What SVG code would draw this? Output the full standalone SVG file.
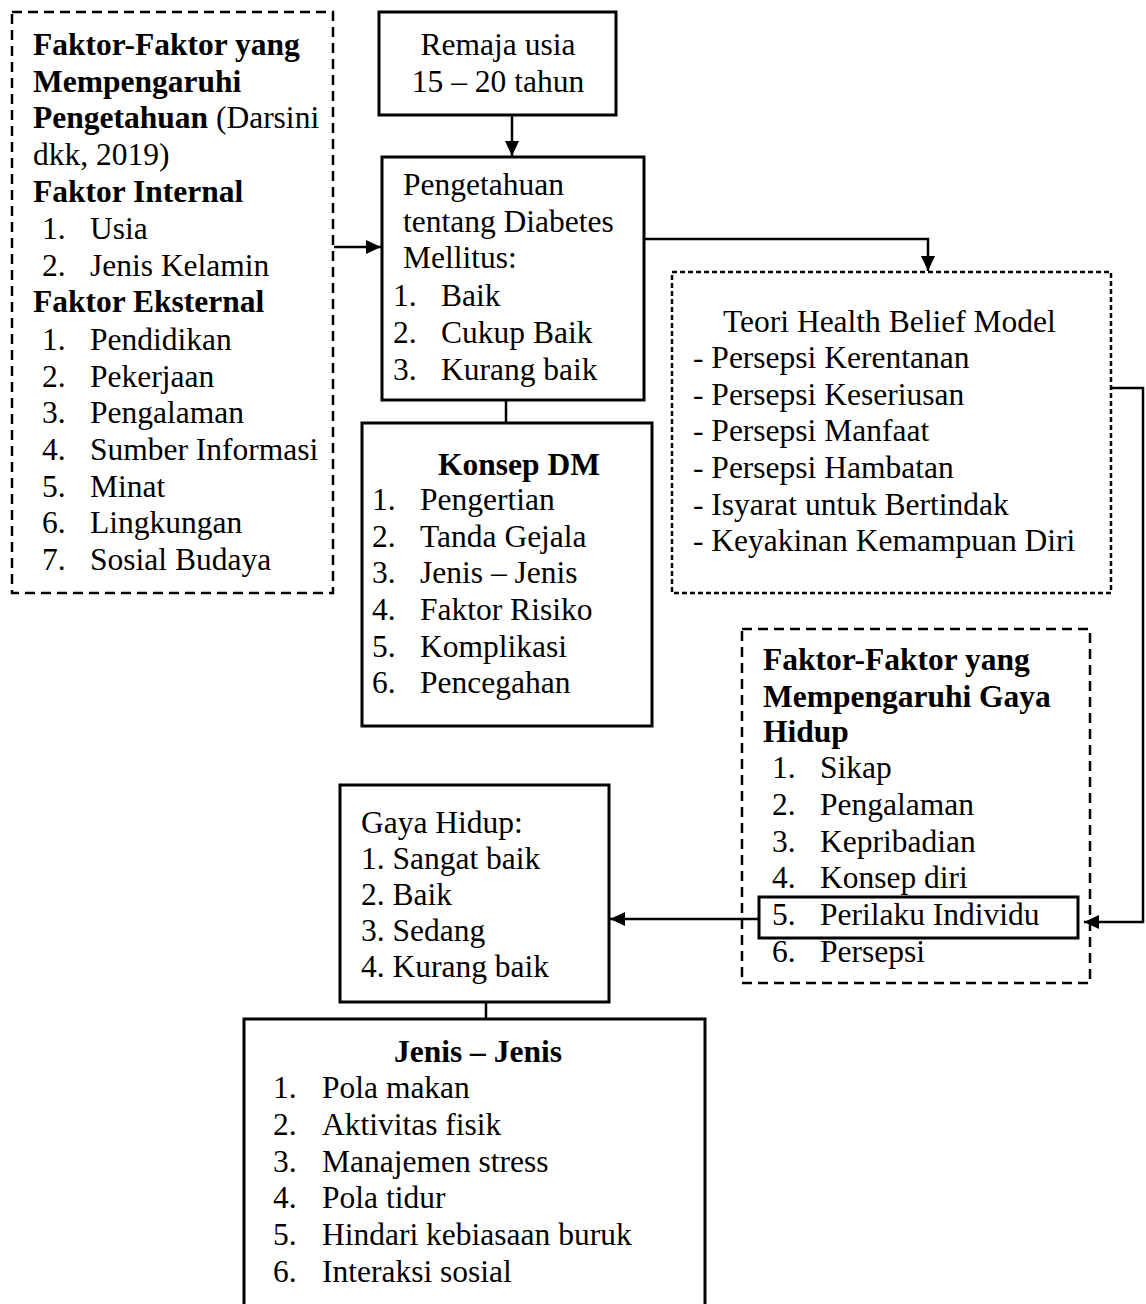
<svg xmlns="http://www.w3.org/2000/svg" width="1146" height="1304" viewBox="0 0 1146 1304">
<style>
text{font-family:"Liberation Serif","Times New Roman",serif;font-size:31.5px;fill:#000}
.b{font-weight:bold}
.solid{fill:#fff;stroke:#000;stroke-width:3}
.dash{fill:#fff;stroke:#000;stroke-width:2.5;stroke-dasharray:10 6}
.dash2{fill:#fff;stroke:#000;stroke-width:2.5;stroke-dasharray:5 3}
.con{fill:none;stroke:#000;stroke-width:2.5}
.arr{marker-end:url(#ah)}
.mid{text-anchor:middle}
</style>
<defs>
<marker id="ah" markerUnits="userSpaceOnUse" markerWidth="16" markerHeight="14" refX="15" refY="7" orient="auto">
<path d="M0,0 L15,7 L0,14 z" fill="#000"/>
</marker>
</defs>
<rect width="1146" height="1304" fill="#fff"/>

<g id="faktor-pengetahuan">
<rect class="dash" x="12" y="12" width="321" height="581"/>
<text class="b" x="33" y="55">Faktor-Faktor yang</text>
<text class="b" x="33" y="92">Mempengaruhi</text>
<text x="33" y="128"><tspan class="b">Pengetahuan</tspan> (Darsini</text>
<text x="33" y="165">dkk, 2019)</text>
<text class="b" x="33" y="202">Faktor Internal</text>
<text x="42" y="239">1.</text><text x="90" y="239">Usia</text>
<text x="42" y="276">2.</text><text x="90" y="276">Jenis Kelamin</text>
<text class="b" x="33" y="312">Faktor Eksternal</text>
<text x="42" y="350">1.</text><text x="90" y="350">Pendidikan</text>
<text x="42" y="387">2.</text><text x="90" y="387">Pekerjaan</text>
<text x="42" y="423">3.</text><text x="90" y="423">Pengalaman</text>
<text x="42" y="460">4.</text><text x="90" y="460">Sumber Informasi</text>
<text x="42" y="497">5.</text><text x="90" y="497">Minat</text>
<text x="42" y="533">6.</text><text x="90" y="533">Lingkungan</text>
<text x="42" y="570">7.</text><text x="90" y="570">Sosial Budaya</text>
</g>

<g id="remaja">
<rect class="solid" x="379" y="12" width="237" height="103"/>
<text class="mid" x="498" y="55">Remaja usia</text>
<text class="mid" x="498" y="92">15 – 20 tahun</text>
</g>

<g id="pengetahuan">
<rect class="solid" x="382" y="157" width="262" height="243"/>
<text x="403" y="195">Pengetahuan</text>
<text x="403" y="232">tentang Diabetes</text>
<text x="403" y="268">Mellitus:</text>
<text x="393" y="306">1.</text><text x="441" y="306">Baik</text>
<text x="393" y="343">2.</text><text x="441" y="343">Cukup Baik</text>
<text x="393" y="380">3.</text><text x="441" y="380">Kurang baik</text>
</g>

<g id="konsep-dm">
<rect class="solid" x="362" y="423" width="290" height="303"/>
<text class="b" x="438" y="475">Konsep DM</text>
<text x="372" y="510">1.</text><text x="420" y="510">Pengertian</text>
<text x="372" y="547">2.</text><text x="420" y="547">Tanda Gejala</text>
<text x="372" y="583">3.</text><text x="420" y="583">Jenis – Jenis</text>
<text x="372" y="620">4.</text><text x="420" y="620">Faktor Risiko</text>
<text x="372" y="657">5.</text><text x="420" y="657">Komplikasi</text>
<text x="372" y="693">6.</text><text x="420" y="693">Pencegahan</text>
</g>

<g id="teori-hbm">
<rect class="dash2" x="672" y="272" width="439" height="321"/>
<text x="723" y="332">Teori Health Belief Model</text>
<text x="693" y="368">- Persepsi Kerentanan</text>
<text x="693" y="405">- Persepsi Keseriusan</text>
<text x="693" y="441">- Persepsi Manfaat</text>
<text x="693" y="478">- Persepsi Hambatan</text>
<text x="693" y="515">- Isyarat untuk Bertindak</text>
<text x="693" y="551">- Keyakinan Kemampuan Diri</text>
</g>

<g id="faktor-gaya-hidup">
<rect class="dash" x="742" y="629" width="348" height="354"/>
<text class="b" x="763" y="670">Faktor-Faktor yang</text>
<text class="b" x="763" y="707">Mempengaruhi Gaya</text>
<text class="b" x="763" y="742">Hidup</text>
<text x="772" y="778">1.</text><text x="820" y="778">Sikap</text>
<text x="772" y="815">2.</text><text x="820" y="815">Pengalaman</text>
<text x="772" y="852">3.</text><text x="820" y="852">Kepribadian</text>
<text x="772" y="888">4.</text><text x="820" y="888">Konsep diri</text>
<g id="perilaku-individu">
<rect class="solid" x="759" y="897" width="319" height="41" fill="none" style="fill:none"/>
<text x="772" y="925">5.</text><text x="820" y="925">Perilaku Individu</text>
</g>
<text x="772" y="962">6.</text><text x="820" y="962">Persepsi</text>
</g>

<g id="gaya-hidup">
<rect class="solid" x="340" y="785" width="269" height="217"/>
<text x="361" y="833">Gaya Hidup:</text>
<text x="361" y="869">1. Sangat baik</text>
<text x="361" y="905">2. Baik</text>
<text x="361" y="941">3. Sedang</text>
<text x="361" y="977">4. Kurang baik</text>
</g>

<g id="jenis-jenis">
<rect class="solid" x="244" y="1019" width="461" height="300"/>
<text class="b mid" x="478" y="1062">Jenis – Jenis</text>
<text x="273" y="1098">1.</text><text x="322" y="1098">Pola makan</text>
<text x="273" y="1135">2.</text><text x="322" y="1135">Aktivitas fisik</text>
<text x="273" y="1172">3.</text><text x="322" y="1172">Manajemen stress</text>
<text x="273" y="1208">4.</text><text x="322" y="1208">Pola tidur</text>
<text x="273" y="1245">5.</text><text x="322" y="1245">Hindari kebiasaan buruk</text>
<text x="273" y="1282">6.</text><text x="322" y="1282">Interaksi sosial</text>
</g>

<g id="connectors">
<path class="con arr" d="M334,247 H381"/>
<path class="con arr" d="M512,115 V156"/>
<path class="con" d="M506,400 V423"/>
<path class="con arr" d="M644,239 H928 V271"/>
<path class="con arr" d="M1111,388 H1143 V922 H1084"/>
<path class="con arr" d="M759,919 H610"/>
<path class="con" d="M486,1002 V1019"/>
</g>
</svg>
